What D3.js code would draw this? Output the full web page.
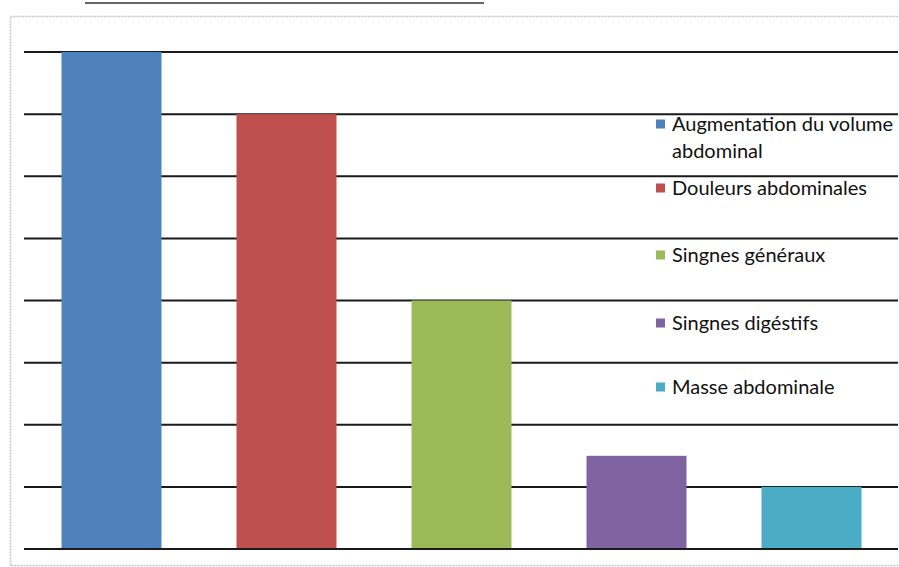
<!DOCTYPE html>
<html>
<head>
<meta charset="utf-8">
<script src="https://cdn.jsdelivr.net/npm/d3@7"></script>
<style>
  html, body { margin: 0; padding: 0; background: #fff; }
  svg { display: block; }
</style>
</head>
<body>
<svg id="chart" width="899" height="567"></svg>
<script>
// Symptom categories, counts and colours
const categories = [
  "Augmentation du volume abdominal",
  "Douleurs abdominales",
  "Singnes généraux",
  "Singnes digéstifs",
  "Masse abdominale"
];
const values = [8, 7, 4, 1.5, 1];
const colors = ["#4F81BD", "#C0504D", "#9BBB59", "#8064A2", "#4BACC6"];
const gridTicks = [0, 1, 2, 3, 4, 5, 6, 7, 8];
// Legend labels split into lines
const legendLines = [
  ["Augmentation du volume", "abdominal"],
  ["Douleurs abdominales"],
  ["Singnes généraux"],
  ["Singnes digéstifs"],
  ["Masse abdominale"]
];

const svg = d3.select("#chart");
const W = 899, H = 567;
const plot = { left: 24, right: 899, top: 52, bottom: 549 };

// stray rule above the chart frame
svg.append("line")
  .attr("x1", 85).attr("x2", 484).attr("y1", 3).attr("y2", 3)
  .attr("stroke", "#333").attr("stroke-width", 1.5);

// chart frame
svg.append("rect")
  .attr("x", 10.5).attr("y", 16.5)
  .attr("width", W + 10).attr("height", 549)
  .attr("fill", "none")
  .attr("stroke", "#c4c4c4").attr("stroke-width", 1.5)
  .attr("stroke-dasharray", "2,1");

const x = d3.scaleBand()
  .domain(categories)
  .range([plot.left, plot.right])
  .paddingInner(75 / 175)
  .paddingOuter(37.5 / 175);

const y = d3.scaleLinear()
  .domain([0, 8])
  .range([plot.bottom, plot.top]);

// horizontal gridlines
svg.append("g")
  .selectAll("line")
  .data(gridTicks)
  .join("line")
  .attr("x1", plot.left).attr("x2", 898)
  .attr("y1", d => y(d)).attr("y2", d => y(d))
  .attr("stroke", "#1a1a1a").attr("stroke-width", 2);

// bars
svg.append("g")
  .selectAll("rect")
  .data(values)
  .join("rect")
  .attr("x", (d, i) => x(categories[i]))
  .attr("width", x.bandwidth())
  .attr("y", d => y(d))
  .attr("height", d => y(0) - y(d))
  .attr("fill", (d, i) => colors[i]);

// baseline on top of bars
svg.append("line")
  .attr("x1", plot.left).attr("x2", 898)
  .attr("y1", y(0)).attr("y2", y(0))
  .attr("stroke", "#1a1a1a").attr("stroke-width", 2);

// legend
const legendY = [124, 188, 255, 323, 387];
const lg = svg.append("g").attr("font-family", "Lato, 'Open Sans', sans-serif")
  .attr("font-size", 20).attr("fill", "#111");
legendLines.forEach((lines, i) => {
  const g = lg.append("g").attr("transform", `translate(656,${legendY[i]})`);
  g.append("rect").attr("x", 0).attr("y", -4.5).attr("width", 9).attr("height", 9)
    .attr("fill", colors[i]);
  lines.forEach((t, j) => {
    g.append("text").attr("x", 16).attr("y", j * 27).attr("dy", "0.35em").text(t);
  });
});
</script>
</body>
</html>
